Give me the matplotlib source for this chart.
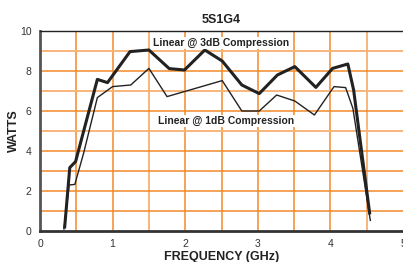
import matplotlib
matplotlib.use("Agg")
import matplotlib.pyplot as plt
import numpy as np

plt.rcParams.update({
    "font.family": ["Liberation Sans", "DejaVu Sans"],
    "font.size": 8,
})

# Linear @ 3dB compression (thick line)
freq_3db = [0.34, 0.41, 0.49, 0.79, 0.93, 1.24, 1.50, 1.78, 1.99, 2.27,
            2.51, 2.78, 3.02, 3.27, 3.51, 3.80, 4.03, 4.24, 4.32, 4.54]
watts_3db = [0.2, 3.17, 3.47, 7.58, 7.42, 8.97, 9.05, 8.12, 8.05, 9.05,
             8.5, 7.3, 6.87, 7.8, 8.22, 7.18, 8.13, 8.35, 7.05, 0.9]

# Linear @ 1dB compression (thin line)
freq_1db = [0.33, 0.40, 0.48, 0.60, 0.79, 1.00, 1.25, 1.50, 1.75, 2.51,
            2.78, 3.02, 3.26, 3.51, 3.78, 4.05, 4.21, 4.31, 4.55]
watts_1db = [0.1, 2.3, 2.33, 3.88, 6.67, 7.22, 7.3, 8.13, 6.72, 7.52,
             6.0, 6.0, 6.8, 6.5, 5.8, 7.22, 7.17, 6.13, 0.53]

ORANGE = "#f28a2a"
LIGHT = "#f7b57a"

fig = plt.figure(figsize=(4.03, 2.62), dpi=100)
ax = fig.add_axes([40 / 403, 31 / 262, 363 / 403, 200 / 262])

# grid
for x in np.arange(0.5, 5.0, 0.5):
    c = LIGHT if x in (1.5, 4.5) else ORANGE
    ax.axvline(x, color=c, linewidth=1.4 if c == LIGHT else 1.1, zorder=1)
for y in range(1, 10):
    c = LIGHT if y in (5, 7, 9) else ORANGE
    ax.axhline(y, color=c, linewidth=1.4 if c == LIGHT else 1.1, zorder=1)

ax.plot(freq_3db, watts_3db, color="#222222", linewidth=2.2, zorder=3)
ax.plot(freq_1db, watts_1db, color="#222222", linewidth=1.0, zorder=3)

ax.text(2.5, 9.4, "Linear @ 3dB Compression", ha="center", va="center",
        fontsize=7.5, fontweight="bold", color="#222222", zorder=4,
        bbox=dict(facecolor="white", edgecolor="none", pad=0.5))
ax.text(2.56, 5.5, "Linear @ 1dB Compression", ha="center", va="center",
        fontsize=7.5, fontweight="bold", color="#222222", zorder=4,
        bbox=dict(facecolor="white", edgecolor="none", pad=0.5))

ax.set_xlim(0, 5)
ax.set_ylim(0, 10)
ax.set_xticks(range(0, 6))
ax.set_yticks(range(0, 11, 2))
ax.tick_params(length=0, labelsize=7.5, labelcolor="#333333", pad=6)
ax.spines["right"].set_visible(False)
ax.spines["top"].set_linewidth(1.0)
ax.spines["top"].set_color("#222222")
ax.spines["left"].set_linewidth(2.0)
ax.spines["left"].set_color("#555555")
ax.spines["bottom"].set_linewidth(2.0)
ax.spines["bottom"].set_color("#333333")

ax.set_title("5S1G4", fontsize=9, fontweight="bold", color="#222222", pad=6)
ax.set_xlabel("FREQUENCY (GHz)", fontsize=9, fontweight="bold",
              color="#222222", labelpad=1)
ax.set_ylabel("WATTS", fontsize=9, fontweight="bold", color="#222222")
ax.yaxis.set_label_coords(-0.055, 0.5)

fig.savefig("out.png", dpi=100)
